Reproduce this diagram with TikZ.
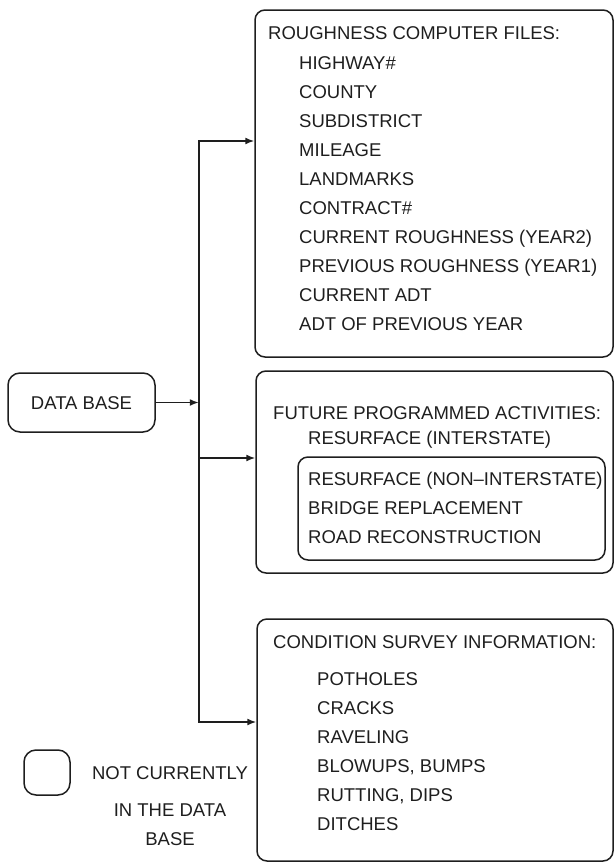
\documentclass[tikz,border=0pt]{standalone}
\usepackage{fontspec}
\usepackage{xcolor}
\usepackage{tikz}
\usetikzlibrary{positioning,arrows.meta}
\newfontfamily\plotter{Liberation Sans}
\definecolor{ctinta}{HTML}{1E1E1E}
\tikzset{
  caja/.style={rectangle, rounded corners=10pt, draw=ctinta, line width=1.5pt,
    inner sep=0pt, text=ctinta, font=\plotter\fontsize{18.5pt}{22pt}\selectfont,
    text height=13.2pt, text depth=0pt},
  fila/.style={inner sep=0pt, text height=13.2pt, text depth=0pt, anchor=west,
    text=ctinta, font=\plotter\fontsize{18.5pt}{22pt}\selectfont},
  debajo/.style={below=of #1.south west, anchor=north west},
  flecha/.style={-{Latex[length=9pt,width=7pt]}, line width=1.5pt, draw=ctinta},
}

\begin{document}
\begin{tikzpicture}[x=1pt, y=-1pt, node distance=15.5pt]
  \useasboundingbox (0,0) rectangle (614,863);
  % cajas
  \node[caja, rounded corners=12pt, minimum width=147pt, minimum height=59pt] (db) at (81.5,402.5) {DATA BASE};
  \node[caja, minimum width=358pt, minimum height=347pt] (rugos) at (434,183.5) {};
  \node[caja, minimum width=357pt, minimum height=202pt] (futur) at (434.5,472) {};
  \node[caja, minimum width=307pt, minimum height=103pt] (interior) at (451.5,508.5) {};
  \node[caja, minimum width=356pt, minimum height=242pt] (cond) at (435,740) {};
  \node[caja, rounded corners=12pt, minimum width=46pt, minimum height=45pt] (ley) at (47,772.5) {};
  % roughness
  \node[fila] (t1) at (268,33) {ROUGHNESS COMPUTER FILES:};
  \node[fila, below right=15.8pt and 31pt of t1.south west] (h1) {HIGHWAY\#};
  \node[fila, debajo=h1] (h2) {COUNTY};
  \node[fila, debajo=h2] (h3) {SUBDISTRICT};
  \node[fila, debajo=h3] (h4) {MILEAGE};
  \node[fila, debajo=h4] (h5) {LANDMARKS};
  \node[fila, debajo=h5] (h6) {CONTRACT\#};
  \node[fila, debajo=h6] (h7) {CURRENT ROUGHNESS (YEAR2)};
  \node[fila, debajo=h7] (h8) {PREVIOUS ROUGHNESS (YEAR1)};
  \node[fila, debajo=h8] (h9) {CURRENT ADT};
  \node[fila, debajo=h9] (h10) {ADT OF PREVIOUS YEAR};
  % future activities
  \node[fila] (t2) at (273,413) {FUTURE PROGRAMMED ACTIVITIES:};
  \node[fila, below right=10.8pt and 35pt of t2.south west] (f1) {RESURFACE (INTERSTATE)};
  \node[fila, below=27.8pt of f1.south west, anchor=north west] (f2) {RESURFACE (NON–INTERSTATE)};
  \node[fila, debajo=f2] (f3) {BRIDGE REPLACEMENT};
  \node[fila, debajo=f3] (f4) {ROAD RECONSTRUCTION};
  % condition survey
  \node[fila] (t3) at (273,642) {CONDITION SURVEY INFORMATION:};
  \node[fila, below right=22.8pt and 44pt of t3.south west] (c1) {POTHOLES};
  \node[fila, debajo=c1] (c2) {CRACKS};
  \node[fila, debajo=c2] (c3) {RAVELING};
  \node[fila, debajo=c3] (c4) {BLOWUPS, BUMPS};
  \node[fila, debajo=c4] (c5) {RUTTING, DIPS};
  \node[fila, debajo=c5] (c6) {DITCHES};
  % leyenda
  \node[fila, anchor=center] (n1) at (170,773) {NOT CURRENTLY};
  \node[fila, below=22.8pt of n1] (n2) {IN THE DATA};
  \node[fila, below=of n2] (n3) {BASE};
  % conectores
  \coordinate[right=43pt of db.east] (tronco);
  \draw[flecha] (db.east) -- (tronco);
  \draw[flecha] (tronco) |- ([yshift=42.5pt]rugos.west);
  \draw[flecha] (tronco) |- ([yshift=14pt]futur.west);
  \draw[flecha] (tronco) |- ([yshift=18pt]cond.west);
\end{tikzpicture}
\end{document}
